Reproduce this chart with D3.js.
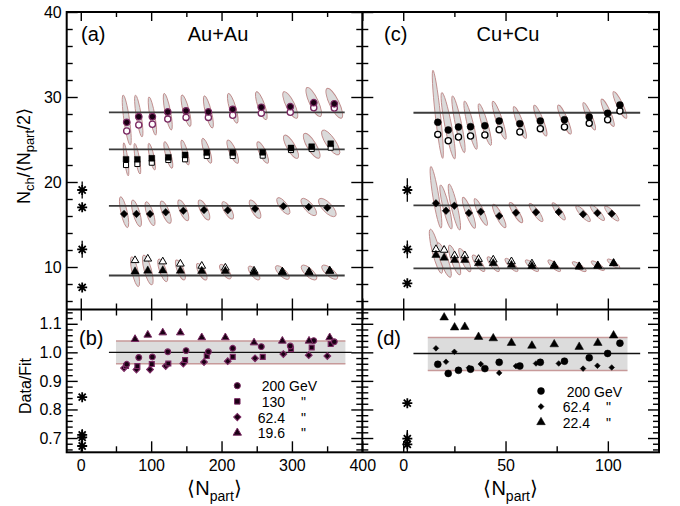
<!DOCTYPE html>
<html><head><meta charset="utf-8">
<script src="https://cdn.jsdelivr.net/npm/d3@7"></script>
<style>
body{margin:0;background:#fff}
svg{display:block}
text{font-family:"Liberation Sans",Arial,Helvetica,sans-serif;fill:#000}
</style>
</head><body>
<svg id="c" width="680" height="506"></svg>
<script>
// ---------------- DATA ----------------
// Au+Au, panel (a)
const auNpart200 = [65.3, 82.4, 101.7, 123.6, 149.6, 181.3, 215.9, 256.5, 297.7, 331.0, 360.2];
const au200      = [27.02, 27.68, 27.68, 28.24, 28.37, 28.24, 28.55, 28.79, 28.86, 29.33, 29.2];
const au200Open  = [26.0, 26.7, 26.8, 27.4, 27.6, 27.6, 27.85, 28.1, 28.2, 28.74, 28.7];
// ellipse: [centre value, half-width in Npart, half-height in value]
const au200Ell = [[27.29,6.4,2.94],[27.76,5.9,2.45],[27.76,5.9,2.25],[28.27,6.4,2.16],[28.39,7.1,1.86],[28.24,7.1,1.9],[28.67,7.6,1.76],[28.98,8.3,1.66],[29.06,10.7,1.57],[29.41,11.1,1.72],[29.26,11.9,1.76]];

const auNpart130 = [64.3, 80.4, 100.9, 124.4, 148.2, 179.0, 215.9, 258.5, 298.7, 328.1, 355.1];
const au130      = [22.67, 22.67, 22.79, 22.9, 23.18, 23.47, 23.45, 23.49, 24.0, 24.15, 24.5];
const au130Open  = [22.0, 22.12, 22.27, 22.59, 22.67, 23.06, 23.06, 23.1, 23.76, 23.88, 24.04];
const au130Ell = [[22.67,4.0,1.94],[22.74,4.8,1.8],[22.98,5.2,1.57],[23.18,6.4,1.57],[23.47,5.9,1.47],[23.67,7.1,1.47],[23.57,8.3,1.37],[23.47,8.3,1.27],[24.15,10.7,1.37],[24.26,11.9,1.47],[24.65,13.0,1.47]];

const auNpart62 = [61.5, 79.1, 98.4, 120.7, 145.7, 175.1, 208.8, 247.6, 287.8, 323.9, 350.3];
const au62      = [16.24, 16.24, 16.24, 16.44, 16.62, 16.71, 16.68, 16.84, 17.16, 17.06, 16.98];
const au62Ell = [[16.45,6.6,1.82],[16.32,7.1,1.57],[16.27,7.1,1.41],[16.45,7.8,1.31],[16.67,7.8,1.22],[16.71,8.3,1.18],[16.67,8.3,1.02],[16.8,8.3,1.08],[17.18,9.4,0.98],[17.06,11.1,1.02],[17.0,12.6,1.08]];

const auNpart19 = [77.1, 95.2, 116.5, 141.5, 171.9, 205.4, 246.2, 286.4, 324.3, 353.7];
const au19      = [9.45, 9.56, 9.58, 9.55, 9.53, 9.53, 9.38, 9.38, 9.38, 9.53];
const au19Open  = [10.78, 10.96, 10.63, 10.37, 10.12, 9.9, 9.55, 9.45, 9.42, 9.55];
const au19Ell = [[9.45,6.4,1.76],[9.65,7.6,1.76],[9.61,7.1,1.34],[9.65,7.1,1.18],[9.45,7.6,0.98],[9.45,8.3,0.86],[9.29,8.3,0.82],[9.35,9.9,0.81],[9.35,11.1,0.88],[9.39,11.4,0.84]];

const auFit = [28.2, 23.85, 17.2, 9.0];
const auFitRange = [40, 375];
const auPP = [19.06, 17.02, 12.08, 7.6];
const auPPErr = [1.0, 0.3, 1.0, 0.2];

// Cu+Cu, panel (c)
const cuNpart200 = [16.9, 22.0, 27.0, 32.9, 39.9, 46.9, 57.0, 67.0, 78.8, 90.9, 99.9, 105.9];
const cu200      = [27.02, 26.12, 26.47, 26.51, 26.62, 27.18, 26.86, 27.18, 27.33, 27.65, 28.08, 29.06];
const cu200Open  = [25.6, 24.86, 25.29, 25.41, 25.53, 26.15, 25.88, 26.27, 26.47, 26.9, 27.33, 28.35];
const cu200Ell = [[27.96,2.7,5.18],[26.62,3.5,3.91],[26.79,3.25,3.34],[26.68,3.25,2.84],[26.76,3.25,2.45],[27.27,3.4,2.25],[27.0,3.25,1.86],[27.23,3.2,1.82],[27.35,3.35,1.71],[27.73,3.1,1.61],[28.15,3.25,1.61],[29.06,3.4,1.57]];

const cuNpart62 = [16.0, 20.9, 25.0, 32.1, 37.9, 46.9, 55.1, 64.9, 76.0, 87.9, 94.9, 101.9];
const cu62      = [17.49, 16.62, 17.21, 16.35, 16.51, 16.0, 16.39, 16.44, 16.47, 16.2, 16.35, 16.27];
const cu62Ell = [[18.2,2.86,3.63],[17.06,3.0,2.59],[17.06,3.0,2.71],[16.38,3.25,1.82],[16.47,3.25,1.57],[16.0,3.25,1.37],[16.41,3.25,1.19],[16.41,3.42,1.08],[16.55,3.25,1.02],[16.27,3.59,0.94],[16.38,3.5,0.92],[16.29,3.5,0.88]];

const cuNpart22 = [16.0, 20.0, 25.1, 30.1, 36.8, 44.0, 52.9, 62.9, 73.8, 86.0, 95.1, 102.8];
const cu22      = [11.41, 11.09, 10.82, 10.82, 10.43, 10.43, 10.24, 10.12, 10.12, 10.04, 10.15, 10.43];
const cu22Open  = [12.08, 12.0, 11.35, 11.35, 10.92, 10.85, 10.65, 10.4, 10.2, 10.05, 10.15, 10.43];
const cu22Ell = [[11.85,3.25,2.59],[10.82,3.5,2.04],[10.82,3.0,1.76],[10.82,3.0,1.37],[10.44,3.1,0.98],[10.33,3.0,0.88],[10.24,3.18,0.78],[10.15,3.25,0.69],[10.15,3.1,0.69],[10.04,3.42,0.59],[10.15,3.25,0.57],[10.39,3.1,0.55]];

const cuFit = [28.15, 17.25, 9.85];
const cuFitRange = [5, 115.8];
const cuPP = [19.06, 12.08, 8.08];
const cuPPErr = [1.37, 1.04, 0.2];

// Data/Fit, panel (b)
const b200 = [0.958, 0.982, 0.984, 1.002, 1.006, 1.002, 1.014, 1.02, 1.022, 1.041, 1.037];
const b130 = [0.952, 0.952, 0.959, 0.961, 0.973, 0.987, 0.984, 0.984, 1.011, 1.017, 1.029];
const b62  = [0.945, 0.94, 0.94, 0.952, 0.961, 0.966, 0.969, 0.979, 0.994, 0.99, 0.987];
const b19  = [1.046, 1.061, 1.069, 1.069, 1.052, 1.052, 1.034, 1.04, 1.04, 1.052];
const bPP = [0.672, 0.711, 0.702, 0.843];
const bPPErr = [0.03, 0.01, 0.03, 0.006];
const bBand = [0.96, 1.04], bBandRange = [50, 376], bLine = 1.0, bLineRange = [40, 385];

// Data/Fit, panel (d)
const d200 = [0.958, 0.926, 0.937, 0.941, 0.943, 0.965, 0.952, 0.965, 0.969, 0.981, 0.996, 1.032];
const d62  = [1.014, 0.967, 1.002, 0.946, 0.959, 0.928, 0.952, 0.961, 0.961, 0.943, 0.953, 0.947];
const d22  = [1.158, 1.122, 1.087, 1.089, 1.054, 1.049, 1.033, 1.023, 1.028, 1.019, 1.033, 1.059];
const dPP = [0.678, 0.698, 0.822];
const dPPErr = [0.045, 0.03, 0.005];
const dBand = [0.936, 1.052], dBandRange = [12, 109.6], dLine = 0.996, dLineRange = [5, 115.8];

const ppNpart = 2;
const legendB = ["200", "130", "62.4", "19.6"];
const legendD = ["200", "62.4", "22.4"];

// ticks
const auMajor = [0,100,200,300,400], auMinor = [50,150,250,350];
const cuMajor = [0,50,100], cuMinor = [25,75];
const topMajor = [10,20,30,40], topMinor = d3.range(6,40,2).filter(v=>v%10!==0);
const botMajor = [0.7,0.8,0.9,1.0,1.1], botMinor = d3.range(0.66,1.15,0.02).map(v=>+v.toFixed(2)).filter(v=>Math.abs(v*10-Math.round(v*10))>1e-6);

// ---------------- DRAW ----------------
const svg = d3.select('#c');
const L=66.7, M=362.3, R=659, T=12, D=309.5, B=452.3;
const xAu = d3.scaleLinear().domain([-20,400]).range([L,M]);
const xCu = d3.scaleLinear().domain([-20,125]).range([M,R]);
const yTop = d3.scaleLinear().domain([5,40]).range([D,T]);
const yBot = d3.scaleLinear().domain([0.65,1.15]).range([B,D]);

const defs = svg.append('defs');
[['clipA',L,T,M-L,D-T],['clipC',M,T,R-M,D-T],['clipB',L,D,M-L,B-D],['clipD',M,D,R-M,B-D]].forEach(([id,x,y,w,h])=>{
  defs.append('clipPath').attr('id',id).append('rect').attr('x',x).attr('y',y).attr('width',w).attr('height',h);
});
const gA = svg.append('g').attr('clip-path','url(#clipA)');
const gC = svg.append('g').attr('clip-path','url(#clipC)');
const gB = svg.append('g').attr('clip-path','url(#clipB)');
const gD = svg.append('g').attr('clip-path','url(#clipD)');

const ELL_FILL = '#dadada', ELL_STROKE = '#bf8a8a';
function drawEllipses(g, xs, ys, npart, ell, rho){
  ell.forEach((e,i)=>{
    const cx = xs(npart[i]), cy = ys(e[0]);
    const px = Math.abs(xs(npart[i]+e[1]) - xs(npart[i]));
    const py = Math.abs(ys(e[0]+e[2]) - ys(e[0]));
    const c = rho; // screen-space correlation: upper end leans left
    const a = px*px, d = py*py, b = c*px*py;
    const tr = (a+d)/2, dis = Math.sqrt(((a-d)/2)**2 + b*b);
    const l1 = tr+dis, l2 = Math.max(tr-dis, 0.3);
    const ang = 0.5*Math.atan2(2*b, a-d)*180/Math.PI;
    g.append('ellipse').attr('rx',Math.sqrt(l1)).attr('ry',Math.sqrt(l2))
      .attr('transform',`translate(${cx},${cy}) rotate(${ang})`)
      .attr('fill',ELL_FILL).attr('stroke',ELL_STROKE).attr('stroke-width',0.9);
  });
}
drawEllipses(gA, xAu, yTop, auNpart200, au200Ell, 0.78);
drawEllipses(gA, xAu, yTop, auNpart130, au130Ell, 0.78);
drawEllipses(gA, xAu, yTop, auNpart62, au62Ell, 0.72);
drawEllipses(gA, xAu, yTop, auNpart19, au19Ell, 0.72);
drawEllipses(gC, xCu, yTop, cuNpart200, cu200Ell, 0.88);
drawEllipses(gC, xCu, yTop, cuNpart62, cu62Ell, 0.86);
drawEllipses(gC, xCu, yTop, cuNpart22, cu22Ell, 0.82);

function hline(g, xs, ys, r, v, color, w){
  g.append('line').attr('x1',xs(r[0])).attr('x2',xs(r[1])).attr('y1',ys(v)).attr('y2',ys(v))
   .attr('stroke',color).attr('stroke-width',w);
}
auFit.forEach(v=>hline(gA, xAu, yTop, auFitRange, v, '#3c3c3c', 1.8));
cuFit.forEach(v=>hline(gC, xCu, yTop, cuFitRange, v, '#3c3c3c', 1.8));

// bands in bottom panels
function band(g, xs, ys, br, bv){
  g.append('rect').attr('x',xs(br[0])).attr('width',xs(br[1])-xs(br[0]))
   .attr('y',ys(bv[1])).attr('height',ys(bv[0])-ys(bv[1])).attr('fill','#dcdcdc');
  bv.forEach(v=>hline(g, xs, ys, br, v, '#c79a9a', 1.5));
}
band(gB, xAu, yBot, bBandRange, bBand);
hline(gB, xAu, yBot, bLineRange, bLine, '#111', 1.3);
band(gD, xCu, yBot, dBandRange, dBand);
hline(gD, xCu, yBot, dLineRange, dLine, '#111', 1.3);

// markers
const SYM = {circle:d3.symbolCircle, square:d3.symbolSquare, diamond:d3.symbolSquare, triangle:d3.symbolTriangle};
function markers(g, xs, ys, npart, vals, type, size, fill, stroke, sw){
  const p = d3.symbol().type(SYM[type]).size(size)();
  const rot = type==='diamond' ? ' rotate(45)' : '';
  vals.forEach((v,i)=>{
    g.append('path').attr('d',p).attr('transform',`translate(${xs(npart[i])},${ys(v)})${rot}`)
     .attr('fill',fill).attr('stroke',stroke).attr('stroke-width',sw);
  });
}
const PUR = '#7b2a63', DK = '#1a0014';
// panel a
markers(gA, xAu, yTop, auNpart200, au200Open, 'circle', 30, '#fff', PUR, 1.3);
markers(gA, xAu, yTop, auNpart200, au200, 'circle', 34, DK, PUR, 1.2);
markers(gA, xAu, yTop, auNpart130, au130Open, 'square', 26, '#fff', '#000', 1);
markers(gA, xAu, yTop, auNpart130, au130, 'square', 34, '#000', '#000', 0.5);
markers(gA, xAu, yTop, auNpart62, au62, 'diamond', 28, '#000', '#000', 0.5);
markers(gA, xAu, yTop, auNpart19, au19Open, 'triangle', 26, '#fff', '#000', 1);
markers(gA, xAu, yTop, auNpart19, au19, 'triangle', 30, '#000', '#000', 0.5);
// panel c
markers(gC, xCu, yTop, cuNpart200, cu200Open, 'circle', 30, '#fff', '#000', 1.3);
markers(gC, xCu, yTop, cuNpart200, cu200, 'circle', 38, '#000', '#000', 0.5);
markers(gC, xCu, yTop, cuNpart62, cu62, 'diamond', 28, '#000', '#000', 0.5);
markers(gC, xCu, yTop, cuNpart22, cu22Open, 'triangle', 26, '#fff', '#000', 1);
markers(gC, xCu, yTop, cuNpart22, cu22, 'triangle', 30, '#000', '#000', 0.5);
// panel b
markers(gB, xAu, yBot, auNpart62, b62, 'diamond', 22, DK, PUR, 1.2);
markers(gB, xAu, yBot, auNpart130, b130, 'square', 24, DK, PUR, 1.2);
markers(gB, xAu, yBot, auNpart200, b200, 'circle', 26, DK, PUR, 1.2);
markers(gB, xAu, yBot, auNpart19, b19, 'triangle', 26, DK, PUR, 1);
// panel d
markers(gD, xCu, yBot, cuNpart200, d200, 'circle', 38, '#000', '#000', 0.5);
markers(gD, xCu, yBot, cuNpart62, d62, 'diamond', 16, '#000', '#000', 0.5);
markers(gD, xCu, yBot, cuNpart22, d22, 'triangle', 32, '#000', '#000', 0.5);

// p+p asterisks
const symAst = {draw(ctx, size){const r=Math.sqrt(size)/2, d=r*Math.SQRT1_2;
  ctx.moveTo(-r,0);ctx.lineTo(r,0);ctx.moveTo(0,-r);ctx.lineTo(0,r);
  ctx.moveTo(-d,-d);ctx.lineTo(d,d);ctx.moveTo(-d,d);ctx.lineTo(d,-d);}};
function stars(g, xs, ys, vals, errs){
  const p = d3.symbol().type(symAst).size(100)();
  vals.forEach((v,i)=>{
    g.append('line').attr('x1',xs(ppNpart)).attr('x2',xs(ppNpart)).attr('y1',ys(v-errs[i])).attr('y2',ys(v+errs[i]))
     .attr('stroke','#000').attr('stroke-width',1.3);
    g.append('path').attr('d',p).attr('transform',`translate(${xs(ppNpart)},${ys(v)})`)
     .attr('fill','none').attr('stroke','#000').attr('stroke-width',1.8);
  });
}
stars(gA, xAu, yTop, auPP, auPPErr);
stars(gC, xCu, yTop, cuPP, cuPPErr);
stars(gB, xAu, yBot, bPP, bPPErr);
stars(gD, xCu, yBot, dPP, dPPErr);

// ---------------- AXES ----------------
const MJ = 11, MN = 6;
function ax(gen, tx, ty, vals, size, labels, pad){
  const a = gen.tickValues(vals).tickSize(size).tickSizeOuter(0);
  if(!labels) a.tickFormat('');
  else a.tickFormat(labels).tickPadding(pad);
  const g = svg.append('g').attr('transform',`translate(${tx},${ty})`).call(a);
  g.select('.domain').remove();
  g.selectAll('.tick line').attr('stroke','#000').attr('stroke-width',1.4);
  g.attr('font-size',16).attr('font-family','"Liberation Sans",Arial,sans-serif');
  return g;
}
// left axis (inward)
ax(d3.axisLeft(yTop), L, 0, topMajor, -MJ, d3.format('d'), 5);
ax(d3.axisLeft(yTop), L, 0, topMinor, -MN);
ax(d3.axisLeft(yBot), L, 0, botMajor, -MJ, d3.format('.1f'), 5);
ax(d3.axisLeft(yBot), L, 0, botMinor, -MN);
// middle (both sides)
[[topMajor,MJ],[topMinor,MN]].forEach(([v,s])=>{ax(d3.axisLeft(yTop),M,0,v,s);ax(d3.axisRight(yTop),M,0,v,s);});
[[botMajor,MJ],[botMinor,MN]].forEach(([v,s])=>{ax(d3.axisLeft(yBot),M,0,v,s);ax(d3.axisRight(yBot),M,0,v,s);});
// right (inward)
ax(d3.axisRight(yTop), R, 0, topMajor, -MJ); ax(d3.axisRight(yTop), R, 0, topMinor, -MN);
ax(d3.axisRight(yBot), R, 0, botMajor, -MJ); ax(d3.axisRight(yBot), R, 0, botMinor, -MN);
// top (inward)
ax(d3.axisTop(xAu), 0, T, auMajor, -9); ax(d3.axisTop(xAu), 0, T, auMinor, -5);
ax(d3.axisTop(xCu), 0, T, cuMajor, -9); ax(d3.axisTop(xCu), 0, T, cuMinor, -5);
// divider (both sides)
[[auMajor,MJ],[auMinor,MN]].forEach(([v,s])=>{ax(d3.axisTop(xAu),0,D,v,s);ax(d3.axisBottom(xAu),0,D,v,s);});
[[cuMajor,MJ],[cuMinor,MN]].forEach(([v,s])=>{ax(d3.axisTop(xCu),0,D,v,s);ax(d3.axisBottom(xCu),0,D,v,s);});
// bottom (inward, labelled)
ax(d3.axisBottom(xAu), 0, B, auMajor, -MJ, d3.format('d'), 7); ax(d3.axisBottom(xAu), 0, B, auMinor, -MN);
ax(d3.axisBottom(xCu), 0, B, cuMajor, -MJ, d3.format('d'), 7); ax(d3.axisBottom(xCu), 0, B, cuMinor, -MN);

// frame
const fr = svg.append('g').attr('stroke','#000').attr('stroke-width',2).attr('fill','none');
fr.append('rect').attr('x',L).attr('y',T).attr('width',R-L).attr('height',B-T);
fr.append('line').attr('x1',M).attr('x2',M).attr('y1',T).attr('y2',B);
fr.append('line').attr('x1',L).attr('x2',R).attr('y1',D).attr('y2',D);

// ---------------- TEXT ----------------
function txt(x,y,s,size,anchor){
  return svg.append('text').attr('x',x).attr('y',y).attr('font-size',size).attr('text-anchor',anchor||'start').text(s);
}
txt(81,41,'(a)',20); txt(218,41,'Au+Au',20,'middle');
txt(384,41,'(c)',20); txt(508,41,'Cu+Cu',20,'middle');
txt(79,345,'(b)',20); txt(376.5,345,'(d)',20);

// legends
function legend(x0, xr, y0, dy, labels, types, sizes, fill, stroke, sw){
  labels.forEach((l,i)=>{
    const y = y0 + i*dy;
    const p = d3.symbol().type(SYM[types[i]]).size(sizes[i])();
    svg.append('path').attr('d',p).attr('transform',`translate(${x0},${y})${types[i]==='diamond'?' rotate(45)':''}`)
      .attr('fill',fill).attr('stroke',stroke).attr('stroke-width',sw);
    txt(xr, y+5.5, l, 14, 'end');
    if(i===0) txt(xr+4, y+5.5, 'GeV', 14);
    else txt(xr+18.5, y+5.5, '"', 14, 'middle');
  });
}
legend(237.3, 285, 385.7, 15.7, legendB, ['circle','square','diamond','triangle'], [30,30,26,30], DK, PUR, 1);
legend(541, 590, 391, 15.6, legendD, ['circle','diamond','triangle'], [38,18,32], '#000', '#000', 0.5);

// axis titles
const yl = svg.append('text').attr('transform','translate(30,156) rotate(-90)').attr('text-anchor','middle').attr('font-size',18);
yl.append('tspan').text('N');
yl.append('tspan').attr('font-size',13).attr('dy',4).text('ch');
yl.append('tspan').attr('dy',-4).text('/\u27E8N');
yl.append('tspan').attr('font-size',13).attr('dy',4).text('part');
yl.append('tspan').attr('dy',-4).text('/2\u27E9');
svg.append('text').attr('transform','translate(31,386) rotate(-90)').attr('text-anchor','middle').attr('font-size',16).text('Data/Fit');
function xlab(cx){
  const t = svg.append('text').attr('x',cx).attr('y',495).attr('text-anchor','middle').attr('font-size',20);
  t.append('tspan').text('\u27E8N');
  t.append('tspan').attr('font-size',14).attr('dy',6).text('part');
  t.append('tspan').attr('dy',-6).text('\u27E9');
}
xlab(214.5); xlab(510.7);
</script>
</body></html>
